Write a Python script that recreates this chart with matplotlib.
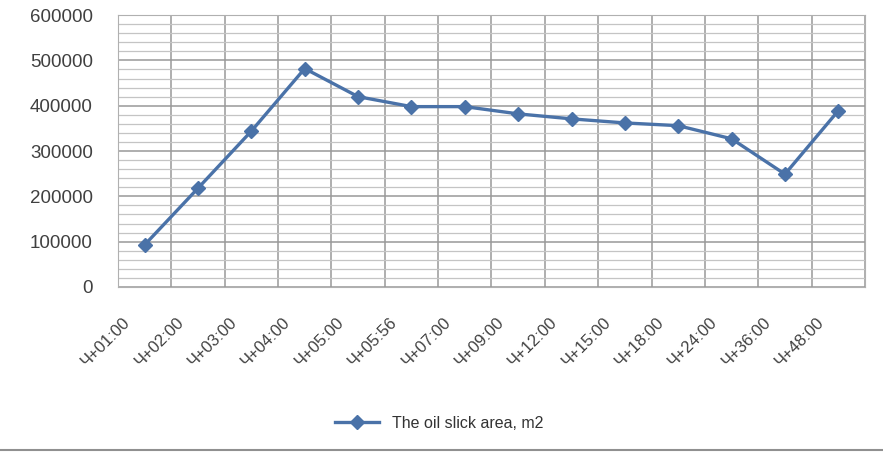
import matplotlib.pyplot as plt
import matplotlib.transforms as mtransforms
from matplotlib.lines import Line2D
import numpy as np

# time after spill and the slick area at that time
labels = ['Ч+01:00', 'Ч+02:00', 'Ч+03:00', 'Ч+04:00', 'Ч+05:00', 'Ч+05:56', 'Ч+07:00',
          'Ч+09:00', 'Ч+12:00', 'Ч+15:00', 'Ч+18:00', 'Ч+24:00', 'Ч+36:00', 'Ч+48:00']
area = [93000, 218000, 344000, 482000, 420000, 398000, 398000,
        382000, 371000, 362000, 356000, 327000, 249000, 389000]

plt.rcParams['font.family'] = ['Liberation Sans', 'DejaVu Sans']

fig = plt.figure(figsize=(8.83, 4.57), dpi=100)
ax = fig.add_axes([0.1336, 0.372, 0.846, 0.595])

x = np.arange(len(labels))
line_color = '#4a72a8'
ax.plot(x, area, color=line_color, lw=2.4, marker='D', ms=7, mfc=line_color, mec=line_color,
        label='The oil slick area, m2', zorder=3)

ax.set_ylim(0, 600000)
ax.set_xlim(-0.5, len(labels) - 0.5)
ax.set_yticks(range(0, 600001, 100000))
ax.set_yticks(range(0, 600001, 20000), minor=True)
ax.set_xticks(x)
ax.set_xticks(np.arange(-0.5, len(labels)), minor=True)
ax.set_xticklabels(labels, rotation=45, ha='right', rotation_mode='anchor', fontsize=12, color='#404040')
ax.tick_params(axis='y', labelsize=13.5, labelcolor='#404040', length=0, pad=18, which='both')
ax.tick_params(axis='x', length=0, pad=20, which='both')

# nudge the slanted category labels to the left
shift = mtransforms.ScaledTranslation(-22 / 100, 0, fig.dpi_scale_trans)
for lab in ax.get_xticklabels():
    lab.set_transform(lab.get_transform() + shift)

ax.grid(True, which='major', axis='y', color='#999999', lw=1.1)
ax.grid(True, which='minor', axis='y', color='#c4c4c4', lw=0.9)
ax.grid(True, which='minor', axis='x', color='#999999', lw=1.1)
for s in ax.spines.values():
    s.set_color('#b0b0b0')

ax.legend(loc='upper center', bbox_to_anchor=(0.43, -0.42), frameon=False, fontsize=11.5,
          handlelength=2.8, labelcolor='#333333')

fig.add_artist(Line2D([0, 1], [0.015, 0.015], color='#909090', lw=1.5))

fig.savefig('out.png', dpi=100)
